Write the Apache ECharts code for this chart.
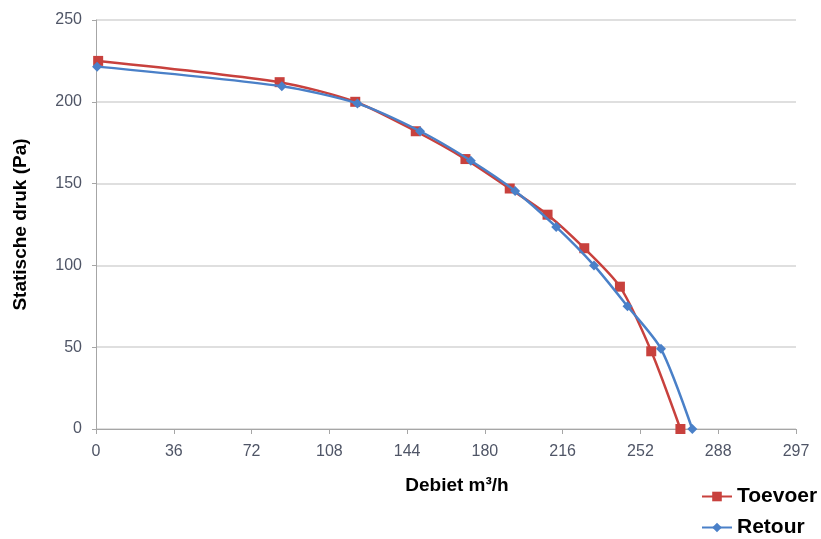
<!DOCTYPE html>
<html>
<head>
<meta charset="utf-8">
<script src="https://cdn.jsdelivr.net/npm/echarts@6/dist/echarts.min.js"></script>
<style>
html,body{margin:0;padding:0;background:#fff;}
#chart{width:821px;height:539px;}
</style>
</head>
<body>
<div id="chart"></div>
<script>
// x tick labels as printed on the reference axis (equally spaced)
const xTickLabels = ['0','36','72','108','144','180','216','252','288','297'];
const yTicks = [0, 50, 100, 150, 200, 250];

const toevoerX = [1, 85, 120, 148, 171, 191.5, 209, 226, 242.5, 257, 270.5];
const toevoerY = [225, 212, 200, 182, 165, 147, 131, 110.5, 87, 47.5, 0];

const retourX = [0.5, 86, 121, 150, 173.5, 194, 213, 230.5, 246, 261.5, 276];
const retourY = [221.5, 209.5, 199, 182, 164, 145.5, 123.5, 100, 75, 49, 0];

const seriesNames = ['Toevoer', 'Retour'];

const pair = (xs, ys) => xs.map((x, i) => [x, ys[i]]);

const chart = echarts.init(document.getElementById('chart'), null, {renderer: 'canvas'});
const font = 'Liberation Sans, Arial, Helvetica, sans-serif';

const legendBase = {
  orient: 'vertical',
  left: 696,
  itemWidth: 30,
  itemHeight: 12,
  itemGap: 6,
  textStyle: {fontFamily: font, fontWeight: 'bold', fontSize: 21, color: '#000'}
};

chart.setOption({
  backgroundColor: '#ffffff',
  animation: false,
  grid: {left: 96, right: 25, top: 20, bottom: 110, containLabel: false, outerBoundsMode: 'none'},
  xAxis: {
    type: 'value',
    min: 0,
    max: 36 * (xTickLabels.length - 1),
    interval: 36,
    name: 'Debiet m³/h',
    nameLocation: 'middle',
    nameGap: 47,
    nameTextStyle: {fontFamily: font, fontWeight: 'bold', fontSize: 19, color: '#000', padding: [0, 0, 0, 22]},
    axisLine: {show: true, lineStyle: {color: '#a6a6a6', width: 1}},
    axisTick: {show: true, length: 5, lineStyle: {color: '#a6a6a6'}},
    axisLabel: {
      fontFamily: font, fontSize: 16, color: '#4f5566', margin: 15,
      formatter: v => xTickLabels[Math.round(v / 36)]
    },
    splitLine: {show: false}
  },
  yAxis: {
    type: 'value',
    min: yTicks[0],
    max: yTicks[yTicks.length - 1],
    interval: 50,
    name: 'Statische druk (Pa)',
    nameLocation: 'middle',
    nameGap: 66,
    nameRotate: 90,
    nameTextStyle: {fontFamily: font, fontWeight: 'bold', fontSize: 19, color: '#000'},
    axisLine: {show: true, lineStyle: {color: '#a6a6a6', width: 1}},
    axisTick: {show: true, length: 4, lineStyle: {color: '#a6a6a6'}},
    axisLabel: {fontFamily: font, fontSize: 16, color: '#4f5566', margin: 14},
    splitLine: {show: true, lineStyle: {color: '#d4d4d4', width: 1.5}}
  },
  legend: [
    Object.assign({}, legendBase, {top: 481, data: [{name: seriesNames[0], itemStyle: {}}]}),
    Object.assign({}, legendBase, {top: 512, data: [{name: seriesNames[1]}]})
  ],
  series: [
    {
      name: seriesNames[0],
      type: 'line',
      data: pair(toevoerX, toevoerY),
      smooth: 0.25,
      symbol: 'rect',
      symbolSize: 10,
      lineStyle: {color: '#c8413d', width: 2.5},
      itemStyle: {color: '#c8413d'},
      z: 2
    },
    {
      name: seriesNames[1],
      type: 'line',
      data: pair(retourX, retourY),
      smooth: 0.25,
      symbol: 'diamond',
      symbolSize: 10,
      lineStyle: {color: '#4a80c8', width: 2.5},
      itemStyle: {color: '#4a80c8'},
      z: 3
    }
  ]
});
</script>
</body>
</html>
